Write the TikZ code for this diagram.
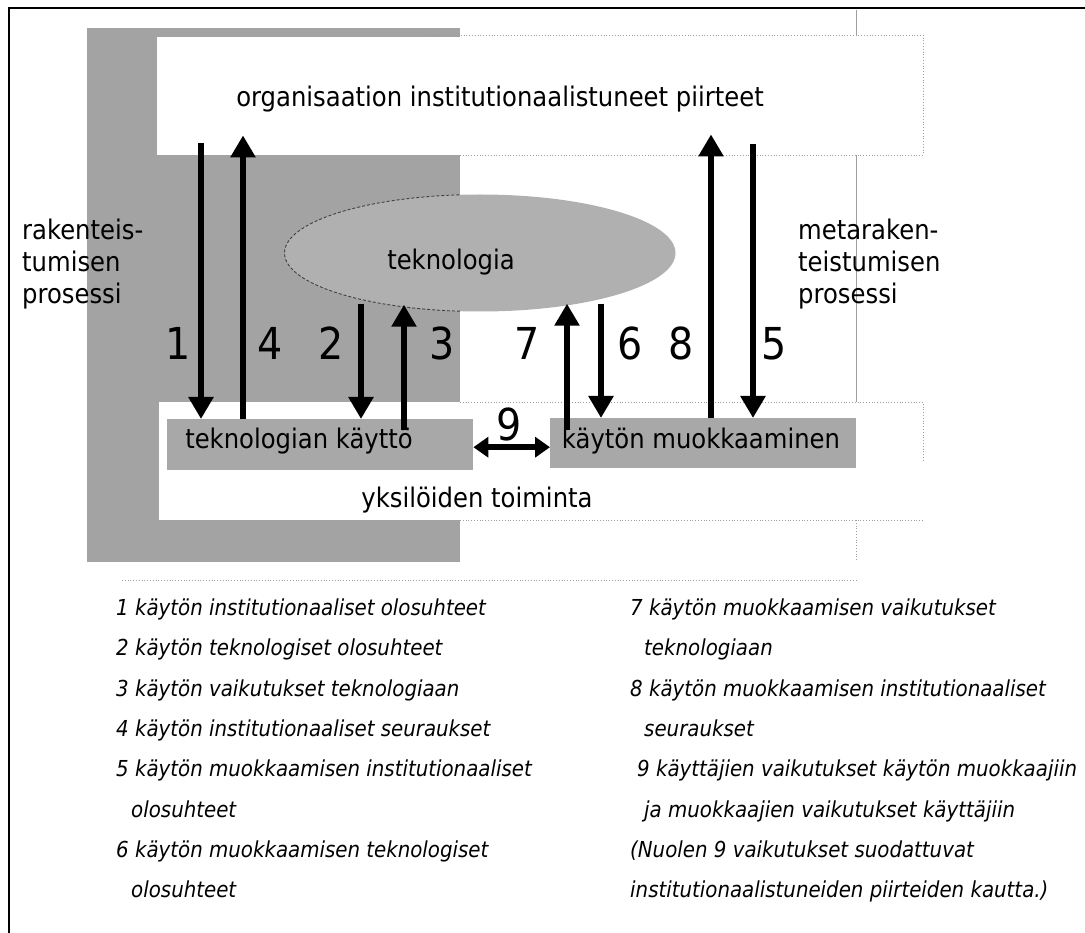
\documentclass[tikz,border=0pt]{standalone}
\usepackage{fontspec}
\setmainfont[FakeStretch=0.9]{DejaVu Sans}
\usetikzlibrary{arrows.meta,shapes.geometric,calc}
\definecolor{bggray}{gray}{0.64}
\definecolor{elgray}{gray}{0.69}
\definecolor{bargray}{gray}{0.66}
\definecolor{faint}{gray}{0.62}
\begin{document}
\begin{tikzpicture}[x=1pt,y=-1pt,
  arr/.style={line width=6pt,-{Triangle[length=22pt,width=24pt]}},
  dbl/.style={line width=6pt,{Triangle[length=15pt,width=20pt]}-{Triangle[length=15pt,width=20pt]}},
  lbl/.style={font=\fontsize{27}{32}\selectfont,inner sep=0pt,anchor=base},
  side/.style={font=\fontsize{27}{32}\selectfont,inner sep=0pt,anchor=base west},
  num/.style={font=\fontsize{44}{44}\selectfont,inner sep=0pt,anchor=base},
  leg/.style={font=\fontsize{22}{26}\selectfont\itshape,inner sep=0pt,anchor=base west},
  wbox/.style={fill=white,draw=none,inner sep=0pt,anchor=north west},
  bar/.style={fill=bargray,draw=none,inner sep=0pt,anchor=north west},
  faintdot/.style={draw=faint,line width=0.8pt,dotted},
  faintline/.style={draw=faint,line width=0.8pt}]
\useasboundingbox (0,0) rectangle (1085,933);
\fill[white] (0,0) rectangle (1085,933);
% frame
\draw[line width=2.2pt] (9,933) -- (9,8) -- (1085,8);
% gray structure region
\fill[bggray] (87,28) rectangle (460,562);
% boxes
\node[wbox,minimum width=766pt,minimum height=118pt] (org) at (157,37) {};
\node[wbox,minimum width=764pt,minimum height=118pt] (yks) at (159,402) {};
% faint box outlines
\draw[faintdot] (430,35) -- (923,35) -- (923,155);
\draw[faintdot] (460,155) -- (923,155);
\draw[faintline] (856,10) -- (856,35);
\draw[faintline] (856,155) -- (856,402);
\draw[faintdot] (460,402) -- (923,402) -- (923,462);
\draw[faintdot] (460,520) -- (923,520);
\draw[faintdot] (856,520) -- (856,560);
\draw[faintdot] (122,580) -- (856,580);
% technology ellipse
\node[ellipse,fill=elgray,draw=none,minimum width=391pt,minimum height=117pt,inner sep=0pt] (tek) at (480,253) {};
\begin{scope}
\clip (87,28) rectangle (460,562);
\draw[dash pattern=on 3pt off 2pt,black!75,line width=0.9pt] (tek.center) ellipse [x radius=195.5pt,y radius=58.5pt];
\end{scope}
% bars
\node[bar,minimum width=306pt,minimum height=51pt] (use) at (167,419) {};
\node[bar,minimum width=306pt,minimum height=50pt] (mod) at (550,418) {};
% texts
\node[lbl] (orgtxt) at (500,107) {organisaation institutionaalistuneet piirteet};
\node[lbl] (tektxt) at (451,270) {teknologia};
\node[lbl] (usetxt) at (299,448) {teknologian käyttö};
\node[lbl] (modtxt) at (701,448) {käytön muokkaaminen};
\node[lbl] (ykstxt) at (477,507) {yksilöiden toiminta};
\node[side] (rak1) at (22,240) {rakenteis-};
\node[side] (rak2) at (22,272) {tumisen};
\node[side] (rak3) at (22,304) {prosessi};
\node[side] (meta1) at (798,240) {metaraken-};
\node[side] (meta2) at (798,272) {teistumisen};
\node[side] (meta3) at (798,304) {prosessi};
% arrow x positions
\coordinate (x1) at (201,0);
\coordinate (x4) at (243,0);
\coordinate (x2) at (361,0);
\coordinate (x3) at (404,0);
\coordinate (x7) at (567,0);
\coordinate (x6) at (601,0);
\coordinate (x8) at (711,0);
\coordinate (x5) at (753,0);
% arrows
\draw[arr] ($(org.south -| x1)+(0,-12)$) -- (use.north -| x1);
\draw[arr] (use.north -| x4) -- ($(org.south -| x4)+(0,-20)$);
\draw[arr] ($(tek.south -| x2)+(0,-8)$) -- (use.north -| x2);
\draw[arr] ($(use.north -| x3)+(0,11)$) -- ($(tek.south -| x3)+(0,-7)$);
\draw[arr] ($(mod.north -| x7)+(0,12)$) -- ($(tek.south -| x7)+(0,-8)$);
\draw[arr] ($(tek.south -| x6)+(0,-8)$) -- (mod.north -| x6);
\draw[arr] (mod.north -| x8) -- ($(org.south -| x8)+(0,-21)$);
\draw[arr] ($(org.south -| x5)+(0,-11)$) -- (mod.north -| x5);
\draw[dbl] ($(use.east)+(0,2.5)$) -- ($(use.east -| mod.west)+(0,2.5)$);
% numbers
\node[num] (n1) at (178,360) {1};
\node[num] (n4) at (270,360) {4};
\node[num] (n2) at (331,360) {2};
\node[num] (n3) at (442,360) {3};
\node[num] (n7) at (527,360) {7};
\node[num] (n6) at (630,360) {6};
\node[num] (n8) at (681,360) {8};
\node[num] (n5) at (774,360) {5};
\node[num] (n9) at (509,440) {9};
% legend left
\node[leg] (l1) at (116,615) {1 käytön institutionaaliset olosuhteet};
\node[leg] (l2) at (116,655) {2 käytön teknologiset olosuhteet};
\node[leg] (l3) at (116,696) {3 käytön vaikutukset teknologiaan};
\node[leg] (l4) at (116,736) {4 käytön institutionaaliset seuraukset};
\node[leg] (l5) at (116,776) {5 käytön muokkaamisen institutionaaliset};
\node[leg] (l5b) at (131,817) {olosuhteet};
\node[leg] (l6) at (116,857) {6 käytön muokkaamisen teknologiset};
\node[leg] (l6b) at (131,897) {olosuhteet};
% legend right
\node[leg] (r7) at (630,615) {7 käytön muokkaamisen vaikutukset};
\node[leg] (r7b) at (644,655) {teknologiaan};
\node[leg] (r8) at (630,696) {8 käytön muokkaamisen institutionaaliset};
\node[leg] (r8b) at (644,736) {seuraukset};
\node[leg] (r9) at (637,776) {9 käyttäjien vaikutukset käytön muokkaajiin};
\node[leg] (r9b) at (644,817) {ja muokkaajien vaikutukset käyttäjiin};
\node[leg] (rn1) at (630,857) {(Nuolen 9 vaikutukset suodattuvat};
\node[leg] (rn2) at (630,897) {institutionaalistuneiden piirteiden kautta.)};
\end{tikzpicture}
\end{document}
